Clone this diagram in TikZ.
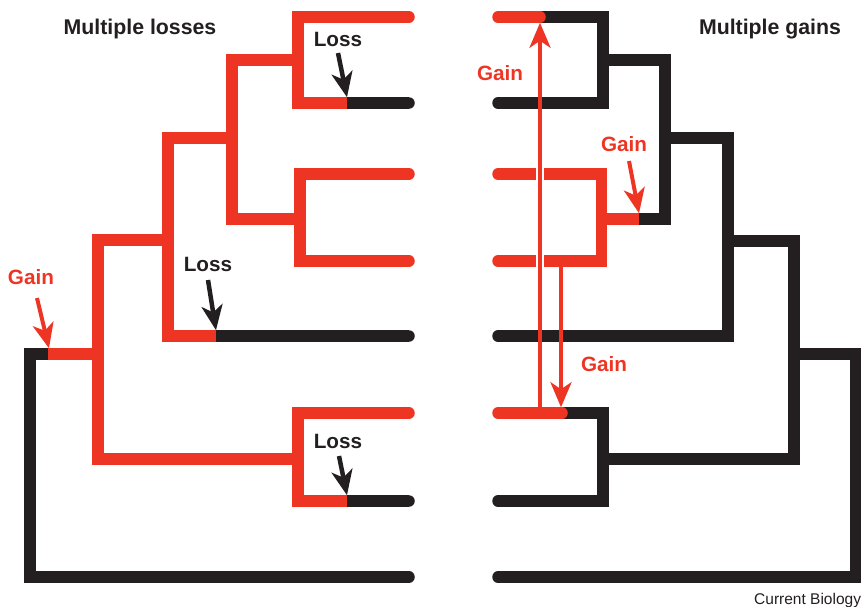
\documentclass[tikz,border=0pt]{standalone}
\usepackage{fontspec}
\setmainfont{Liberation Sans}
\usetikzlibrary{arrows.meta}
\definecolor{cred}{RGB}{238,53,36}
\definecolor{cblk}{RGB}{35,31,32}
\tikzset{
  rb/.style={draw=cred, line width=11.5pt, line cap=round, line join=miter},
  bb/.style={draw=cblk, line width=11.5pt, line cap=round, line join=miter},
  rbutt/.style={draw=cred, line width=11.5pt, line cap=butt},
  bbutt/.style={draw=cblk, line width=11.5pt, line cap=butt},
  lbl/.style={font=\bfseries\fontsize{20.7}{24}\selectfont, inner sep=0pt},
  ttl/.style={font=\bfseries\fontsize{21.3}{25}\selectfont, inner sep=0pt},
  karrow/.style={draw=cblk, line width=4.5pt, -{Stealth[length=25pt,width=21pt,inset=7pt]}},
  garrow/.style={draw=cred, line width=4pt, -{Stealth[length=25pt,width=21pt,inset=7pt]}},
  casing/.style={draw=white, line width=8pt},
}
\begin{document}
\begin{tikzpicture}[x=1pt,y=-1pt]
\useasboundingbox (0,0) rectangle (861,606);

% ---------------- Left tree: Multiple losses ----------------
\draw[bb] (409,577) -- (30,577) -- (30,354) -- (48,354);
\draw[rbutt] (48,354) -- (98,354);
\draw[rb] (409,17) -- (298,17) -- (298,103) -- (347,103);
\draw[rb] (409,174) -- (300,174) -- (300,261) -- (409,261);
\draw[rb] (298,60) -- (232,60) -- (232,219) -- (300,219);
\draw[rb] (232,138) -- (168,138) -- (168,336) -- (216,336);
\draw[rb] (409,413) -- (298,413) -- (298,501) -- (347,501);
\draw[rb] (168,240) -- (98,240) -- (98,459) -- (298,459);
% lost segments
\draw[bbutt] (347,103) -- (409,103);
\fill[cblk] (409,103) circle[radius=5.75pt];
\draw[bbutt] (216,336) -- (409,336);
\fill[cblk] (409,336) circle[radius=5.75pt];
\draw[bbutt] (347,501) -- (409,501);
\fill[cblk] (409,501) circle[radius=5.75pt];

% ---------------- Right tree: Multiple gains ----------------
\draw[bb] (540,17) -- (603,17) -- (603,103) -- (498,103);
\draw[bb] (603,60) -- (665,60) -- (665,219) -- (639,219);
\draw[bb] (665,138) -- (728,138) -- (728,336) -- (498,336);
\draw[bb] (562,413) -- (603,413) -- (603,501) -- (498,501);
\draw[bb] (728,241) -- (794,241) -- (794,459) -- (603,459);
\draw[bb] (794,354) -- (856,354) -- (856,577) -- (498,577);
% gained segments
\draw[rb] (498,17) -- (540,17);
\draw[rbutt] (601,219) -- (639,219);
\draw[rb] (498,174) -- (601.5,174) -- (601.5,261) -- (498,261);
\draw[rb] (498,413) -- (562,413);

% ---------------- Labels ----------------
\node[ttl, text=cblk] (tleft) at (140,29) {Multiple losses};
\node[ttl, text=cblk] (tright) at (770,29) {Multiple gains};
\node[lbl, text=cblk] (loss1) at (338,39) {Loss};
\node[lbl, text=cblk] (loss2) at (208,264) {Loss};
\node[lbl, text=cblk] (loss3) at (338,441) {Loss};
\node[lbl, text=cred] (gain0) at (31,277) {Gain};
\node[lbl, text=cred] (gain1) at (500,73) {Gain};
\node[lbl, text=cred] (gain2) at (624,144) {Gain};
\node[lbl, text=cred] (gain3) at (604,364) {Gain};
\node[font=\fontsize{15.5}{17}\selectfont, inner sep=0pt, anchor=base west, text=cblk] (credit) at (754,604) {Current Biology};

% ---------------- Arrows ----------------
\coordinate (l1s) at (338,53);  \coordinate (l1e) at (347,97.25);
\coordinate (l2s) at (208,280); \coordinate (l2e) at (216,330.25);
\coordinate (l3s) at (339,456); \coordinate (l3e) at (347,495.25);
\coordinate (g0s) at (37,298);  \coordinate (g0e) at (49,348.25);
\coordinate (g2s) at (629,161); \coordinate (g2e) at (639,213.25);
\coordinate (g1s) at (540,408); \coordinate (g1e) at (540,22.75);
\coordinate (g3s) at (561,266); \coordinate (g3e) at (561,407.25);
\coordinate (cas1) at (540,165); \coordinate (cas2) at (540,270);

\draw[karrow] (l1s) -- (l1e);
\draw[karrow] (l2s) -- (l2e);
\draw[karrow] (l3s) -- (l3e);
\draw[garrow] (g0s) -- (g0e);
\draw[garrow] (g2s) -- (g2e);
\draw[casing] (cas1) -- (cas2);
\draw[garrow] (g1s) -- (g1e);
\draw[garrow] (g3s) -- (g3e);
\end{tikzpicture}
\end{document}
